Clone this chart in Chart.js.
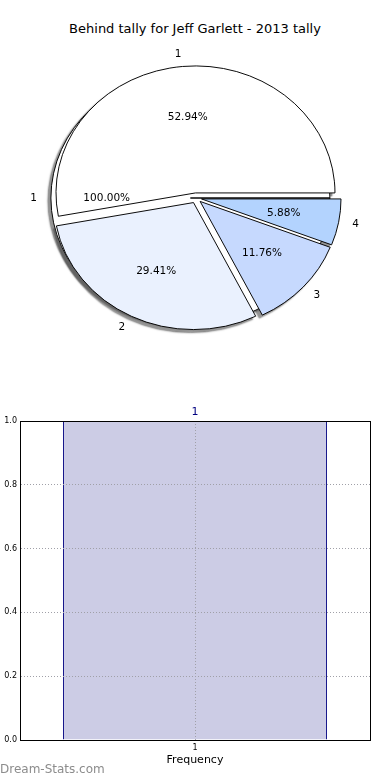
<!DOCTYPE html>
<html><head><meta charset="utf-8">
<script src="https://cdn.jsdelivr.net/npm/chart.js@4.4.1/dist/chart.umd.min.js"></script>
<style>
html,body{margin:0;padding:0;background:#fff;overflow:hidden;width:390px;height:780px;}
#title{position:absolute;left:0;top:21px;width:390px;text-align:center;font:13px 'DejaVu Sans',sans-serif;color:#000;}
.pie{position:absolute;left:0;top:0;}
#bar{position:absolute;left:0;top:400px;}
#wm{position:absolute;left:0;top:762px;font:12px 'DejaVu Sans',sans-serif;color:#8c8c8c;}
</style></head><body>
<div id="title">Behind tally for Jeff Garlett - 2013 tally</div>
<canvas id="pieBase" class="pie" width="390" height="396"></canvas>
<canvas id="pieTop" class="pie" width="390" height="396"></canvas>
<canvas id="bar" width="390" height="370"></canvas>
<div id="wm">Dream-Stats.com</div>
<script>
// ---- data ----
const pieCategories = ['1', '2', '3', '4'];
const pieValues = [9, 5, 2, 1];
const baseCategories = ['1'];
const baseValues = [1];
const barCategories = ['1'];
const barValues = [1.0];

// ---- style ----
const pieColors = ['#ffffff', '#eaf1fe', '#c6d9fe', '#b3d3fe'];
const FONT = "'DejaVu Sans', sans-serif";
Chart.defaults.font.family = FONT;
const KY = 127 / 139.5;
const EXPLODE = 5.6;
const RADIUS = 139.5;

function drawPieLabels(ctx, chart) {
  const arcs = chart.getDatasetMeta(0).data;
  const data = chart.data.datasets[0].data;
  const labels = chart.data.labels;
  const total = data.reduce((s, v) => s + v, 0);
  ctx.save();
  ctx.font = '10.5px ' + FONT;
  ctx.fillStyle = '#000';
  ctx.textBaseline = 'middle';
  arcs.forEach((a, i) => {
    const mid = (a.startAngle + a.endAngle) / 2;
    const c = Math.cos(mid), s = Math.sin(mid);
    const r = a.outerRadius;
    const ox = a.x + c * EXPLODE, oy = a.y + s * EXPLODE * KY;
    ctx.textAlign = 'center';
    ctx.fillText((data[i] / total * 100).toFixed(2) + '%', ox + c * r * 0.6, oy + s * r * 0.6 * KY);
    ctx.textAlign = c > 0 ? 'left' : 'right';
    ctx.fillText(labels[i], ox + c * r * 1.1, oy + s * r * 1.1 * KY);
  });
  ctx.restore();
}

function pieFx(opts) {
  return {
    id: 'pieFx',
    beforeDatasetsDraw(chart) {
      const ctx = chart.ctx;
      const arcs = chart.getDatasetMeta(0).data;
      const cx = arcs[0].x, cy = arcs[0].y;
      const drawAll = (dx) => arcs.forEach(a => {
        const mid = (a.startAngle + a.endAngle) / 2;
        ctx.save();
        ctx.translate(Math.cos(mid) * EXPLODE + dx, Math.sin(mid) * EXPLODE);
        a.draw(ctx);
        ctx.restore();
      });
      // shadow pass (shadow only, shapes drawn off-canvas)
      ctx.save();
      if (opts.clipOutside) {
        const b = opts.clipOutside();
        ctx.beginPath();
        ctx.rect(0, 0, chart.width, chart.height);
        ctx.ellipse(b.x, b.y, b.r, b.r * KY, 0, 0, Math.PI * 2);
        ctx.clip('evenodd');
      }
      ctx.translate(cx, cy); ctx.scale(1, KY); ctx.translate(-cx, -cy);
      ctx.shadowColor = 'rgba(60,60,60,0.55)';
      ctx.shadowOffsetX = 3000 - 3;
      ctx.shadowOffsetY = 3;
      ctx.shadowBlur = 1.5;
      drawAll(-3000);
      ctx.restore();
      // main pass
      ctx.save();
      ctx.translate(cx, cy); ctx.scale(1, KY); ctx.translate(-cx, -cy);
      drawAll(0);
      ctx.restore();
      return false;
    },
    afterDraw(chart) {
      if (!opts.labelCharts) return;
      opts.labelCharts().forEach(c => drawPieLabels(chart.ctx, c === 'self' ? chart : c));
    }
  };
}

function pieConfig(labels, values, colors, plugin) {
  return {
    type: 'pie',
    data: {
      labels: labels,
      datasets: [{
        data: values,
        backgroundColor: colors,
        borderColor: '#000',
        borderWidth: 1,
        borderJoinStyle: 'miter',
        hoverOffset: 0
      }]
    },
    options: {
      responsive: false,
      animation: false,
      rotation: 90,
      radius: RADIUS,
      layout: { padding: { left: 2 } },
      events: [],
      plugins: { legend: { display: false }, tooltip: { enabled: false } }
    },
    plugins: [plugin]
  };
}

const baseChart = new Chart(document.getElementById('pieBase'),
  pieConfig(baseCategories, baseValues, ['#ffffff'], pieFx({})));

// top pie is drawn counter-clockwise from east (reverse order, clockwise in canvas)
const topLabels = pieCategories.slice().reverse();
const topValues = pieValues.slice().reverse();
const topColors = pieColors.slice().reverse();
new Chart(document.getElementById('pieTop'),
  pieConfig(topLabels, topValues, topColors, pieFx({
    clipOutside: () => {
      const a = baseChart.getDatasetMeta(0).data[0];
      const mid = (a.startAngle + a.endAngle) / 2;
      return { x: a.x + Math.cos(mid) * EXPLODE, y: a.y + Math.sin(mid) * EXPLODE * KY, r: a.outerRadius };
    },
    labelCharts: () => [baseChart, 'self']
  })));

// ---- bar chart ----
new Chart(document.getElementById('bar'), {
  type: 'bar',
  data: {
    labels: barCategories,
    datasets: [{
      data: barValues,
      backgroundColor: 'rgb(204,204,229)',
      borderColor: '#000080',
      borderWidth: 1,
      borderSkipped: 'bottom',
      barPercentage: 0.754,
      categoryPercentage: 1
    }]
  },
  options: {
    responsive: false,
    animation: false,
    events: [],
    layout: { padding: { left: 0, right: 20, top: 0, bottom: 0 } },
    plugins: { legend: { display: false }, tooltip: { enabled: false } },
    scales: {
      x: {
        position: 'bottom',
        offset: true,
        grid: { offset: false, color: '#a0a0a8', drawTicks: false, z: 1 },
        border: { display: true, color: '#000', width: 1, dash: [1, 2], z: 2 },
        ticks: { font: { size: 8 }, color: '#000', padding: 3 },
        title: { display: true, text: 'Frequency', font: { size: 11 }, color: '#000', padding: { top: 0, bottom: 3 } },
        afterFit(s) { s.height = 30; }
      },
      x2: {
        position: 'top',
        type: 'category',
        labels: barCategories,
        offset: true,
        grid: { display: false, drawTicks: false },
        border: { display: true, color: '#000', width: 1, z: 2 },
        ticks: { font: { size: 11 }, color: '#000080', padding: 2 },
        afterFit(s) { s.height = 21; }
      },
      y: {
        min: 0, max: 1,
        ticks: { stepSize: 0.2, callback: v => Number(v).toFixed(1), font: { size: 8 }, color: '#000', padding: 3 },
        grid: { color: '#a0a0a8', drawTicks: false, z: 1 },
        border: { display: true, color: '#000', width: 1, dash: [1, 2], z: 2 },
        afterFit(s) { s.width = 20; }
      },
      y2: {
        position: 'right',
        min: 0, max: 1,
        ticks: { display: false },
        grid: { display: false, drawTicks: false },
        border: { display: true, color: '#000', width: 1, z: 2 },
        afterFit(s) { s.width = 0; }
      }
    }
  }
});
</script>
</body></html>
